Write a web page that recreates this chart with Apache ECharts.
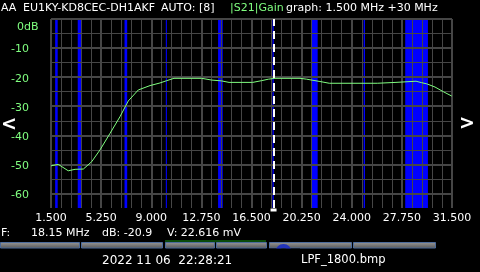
<!DOCTYPE html>
<html><head><meta charset="utf-8">
<script src="https://cdn.jsdelivr.net/npm/echarts@6/dist/echarts.min.js"></script>
<style>html,body{margin:0;padding:0;background:#000}#c{width:480px;height:272px}</style>
</head><body><div id="c"></div>
<script>
// ---- data ----
const freqMHz = [1.50, 2.05, 2.79, 3.30, 3.92, 4.54, 5.17, 5.92, 6.66, 7.28, 8.03, 8.91, 9.65, 10.16, 10.70,
  12.77, 13.52, 14.27, 14.82, 16.59, 17.26, 17.76, 18.26, 20.13, 20.63, 21.25, 21.62, 22.32, 25.91, 25.99,
  27.31, 27.36, 28.81, 29.23, 29.61, 30.23, 30.85, 31.48];
const gainDb = [-50.5, -50.0, -52.2, -51.7, -51.6, -49.1, -45.0, -39.3, -33.6, -28.2, -24.4, -22.9, -22.0, -21.2, -20.4,
  -20.4, -21.0, -21.3, -21.8, -21.8, -21.2, -20.7, -20.4, -20.4, -20.7, -21.2, -21.5, -22.1, -22.1, -21.8,
  -21.8, -21.4, -21.4, -21.9, -22.3, -23.4, -25.0, -26.5];
const bandStart = [1.81, 3.5, 7.0, 10.09, 14.0, 18.068, 21.0, 24.89, 28.0];
const bandEnd   = [2.0, 3.8, 7.2, 10.17, 14.35, 18.168, 21.45, 24.99, 29.7];
const markerFreq = 18.15;
const xMin = 1.5, xMax = 31.5, xStep = 3.75, xMinorSplit = 5;
const yMin = -65, yMax = 0, yMinorStep = 5, yMajorStep = 10;
const yTopLabel = '0dB';
const headerParts = ['AA', 'EU1KY-KD8CEC-DH1AKF', 'AUTO: [8]', '|S21|Gain', 'graph: 1.500 MHz +30 MHz'];
const infoParts = ['F:', '18.15 MHz', 'dB: -20.9', 'V: 22.616 mV'];
const footerParts = ['2022 11 06  22:28:21', 'LPF_1800.bmp'];

// ---- styles ----
const FONT = '"DejaVu Sans", sans-serif';
const GREEN = '#80ff80';
const GRIDC = '#464646';

const chart = echarts.init(document.getElementById('c'), null, {renderer: 'canvas'});

function txt(t, x, y, color, size) {
  return {type: 'text', silent: true, z: 20, style: {
    text: t, x: x, y: y, fill: color || '#fff', font: (size || 11) + 'px ' + FONT, align: 'left', verticalAlign: 'middle'
  }};
}

const buttons = [[0, 80], [81, 163], [165, 215], [216, 267], [269, 352], [353, 436]];
const graphics = [];
graphics.push(txt(headerParts[0], 1, 8));
graphics.push(txt(headerParts[1], 23, 8));
graphics.push(txt(headerParts[2], 161, 8));
graphics.push(txt(headerParts[3], 230, 8, GREEN));
graphics.push(txt(headerParts[4], 286, 8));
graphics.push(txt(infoParts[0], 1, 233));
graphics.push(txt(infoParts[1], 31, 233));
graphics.push(txt(infoParts[2], 102, 233));
graphics.push(txt(infoParts[3], 167, 233));
graphics.push(txt(footerParts[0], 102, 260.5, '#fff', 12));
graphics.push(txt(footerParts[1], 301, 260.5, '#fff', 11.5));
graphics.push({type: 'text', silent: true, z: 20, style: {text: '<', x: 9, y: 125, fill: '#fff',
  font: 'bold 19px ' + FONT, align: 'center', verticalAlign: 'middle'}});
graphics.push({type: 'text', silent: true, z: 20, style: {text: '>', x: 467, y: 124, fill: '#fff',
  font: 'bold 19px ' + FONT, align: 'center', verticalAlign: 'middle'}});
// toolbar strip
graphics.push({type: 'rect', silent: true, z: 10, shape: {x: 165, y: 240, width: 101, height: 2.5}, style: {fill: '#0a4a0a'}});
buttons.forEach(b => {
  graphics.push({type: 'rect', silent: true, z: 10, shape: {x: b[0] + 0.5, y: 242.5, width: b[1] - b[0] - 1, height: 5.5},
    style: {fill: new echarts.graphic.LinearGradient(0, 0, 0, 1, [{offset: 0, color: '#9a9a9a'}, {offset: 1, color: '#555'}]),
      stroke: '#4d6c9c', lineWidth: 1}});
});
graphics.push({type: 'sector', silent: true, z: 11, shape: {cx: 283.5, cy: 252, r0: 4, r: 8, startAngle: Math.PI, endAngle: 2 * Math.PI},
  style: {fill: '#2233bb'}});
graphics.push({type: 'rect', silent: true, z: 12, shape: {x: 270, y: 248.6, width: 30, height: 5}, style: {fill: '#000'}});

const option = {
  backgroundColor: '#000',
  animation: false,
  grid: {left: 51, top: 19, width: 401, height: 189, containLabel: false},
  xAxis: {
    type: 'value', min: xMin, max: xMax, interval: xStep, z: 3,
    axisLine: {show: false}, axisTick: {show: false},
    splitLine: {show: true, lineStyle: {color: GRIDC, width: 2}},
    minorTick: {show: false, splitNumber: xMinorSplit},
    minorSplitLine: {show: true, lineStyle: {color: GRIDC, width: 1}},
    axisLabel: {color: '#fff', fontFamily: 'DejaVu Sans', fontSize: 11, margin: 5,
      formatter: v => v.toFixed(3)}
  },
  yAxis: [{
    type: 'value', min: yMin, max: yMax, interval: yMinorStep, z: 3,
    axisLine: {show: false}, axisTick: {show: false},
    splitLine: {show: true, showMinLine: false, lineStyle: {color: GRIDC, width: 1}},
    axisLabel: {
      align: 'left', margin: 40,
      formatter: v => v === yMax ? '{t|' + yTopLabel + '}' : (v % yMajorStep === 0 ? '{n|' + v + '}' : ''),
      rich: {
        t: {color: GREEN, fontFamily: 'DejaVu Sans', fontSize: 11, padding: [16, 0, 0, 6]},
        n: {color: GREEN, fontFamily: 'DejaVu Sans', fontSize: 11, padding: [3, 0, 0, 0]}
      }
    }
  }, {
    type: 'value', min: yMin, max: yMax, splitNumber: 7, z: 3, position: 'left',
    axisLine: {show: false}, axisTick: {show: false}, axisLabel: {show: false},
    splitLine: {show: true, showMinLine: false, lineStyle: {color: GRIDC, width: 2}}
  }],
  graphic: graphics,
  series: [{
    name: 'bands', type: 'line', z: 1, silent: true, symbol: 'none',
    data: freqMHz.map((f, i) => [f, gainDb[i]]),
    lineStyle: {opacity: 0},
    markArea: {silent: true, itemStyle: {color: '#0000ff', opacity: 1},
      data: bandStart.map((s, i) => [{xAxis: s}, {xAxis: bandEnd[i]}])}
  }, {
    name: 'S21', type: 'line', z: 5, silent: true, symbol: 'none',
    data: freqMHz.map((f, i) => [f, gainDb[i]]),
    lineStyle: {color: GREEN, width: 1}
  }, {
    name: 'marker', type: 'line', z: 6, silent: true, symbol: 'none', data: [],
    markLine: {silent: true, symbol: ['none', 'none'], label: {show: false},
      lineStyle: {color: '#fff', type: [8, 5], width: 2}, data: [{xAxis: markerFreq}]},
    markPoint: {silent: true, symbol: 'rect', symbolSize: [6, 3], symbolOffset: [0, 2], label: {show: false},
      itemStyle: {color: '#fff'}, data: [{coord: [markerFreq, yMin]}]}
  }]
};
chart.setOption(option);
</script>
</body></html>
